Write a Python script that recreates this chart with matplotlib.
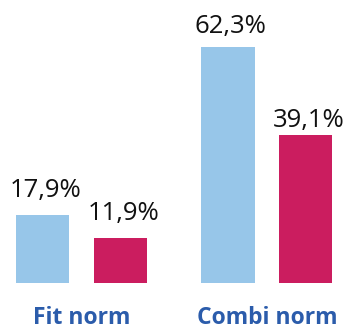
import numpy as np
import matplotlib
matplotlib.use('Agg')
import matplotlib.pyplot as plt

# datos
categorias = ['Fit norm', 'Combi norm']
serie_azul = [17.9, 62.3]
serie_roja = [11.9, 39.1]

color_azul = '#97C6E9'
color_rojo = '#CB1D5F'
color_texto = '#2B5CAB'

fig = plt.figure(figsize=(3.48, 3.32), dpi=100)
ax = fig.add_axes([0, 49/332, 1, 283/332])

x = np.arange(len(categorias))
ancho = 0.286
desp = 0.21

b1 = ax.bar(x - desp, serie_azul, ancho, color=color_azul)
b2 = ax.bar(x + desp, serie_roja, ancho, color=color_rojo)

ax.set_xlim(-0.439, 1.437)
ax.set_ylim(0, 74.7)

# etiquetas de valor (separacion irregular como en la original)
sep_azul = [13, 10]
sep_roja = [13, 6]
for barras, vals, seps in [(b1, serie_azul, sep_azul), (b2, serie_roja, sep_roja)]:
    for b, v, s in zip(barras, vals, seps):
        ax.annotate(f'{v:.1f}%'.replace('.', ','),
                    (b.get_x() + b.get_width() / 2 + 0.015, b.get_height()),
                    xytext=(0, s), textcoords='offset points',
                    ha='center', va='baseline', fontsize=18.5,
                    family='Open Sans', color='#111111')

# nombres de las categorias abajo del todo
for xi, cat in zip(x, categorias):
    ax.text(xi, -47/283, cat, transform=ax.get_xaxis_transform(),
            ha='center', va='bottom', fontsize=16.5, fontweight='bold',
            family='Open Sans', color=color_texto)

ax.axis('off')
fig.savefig('out.png', dpi=100)
